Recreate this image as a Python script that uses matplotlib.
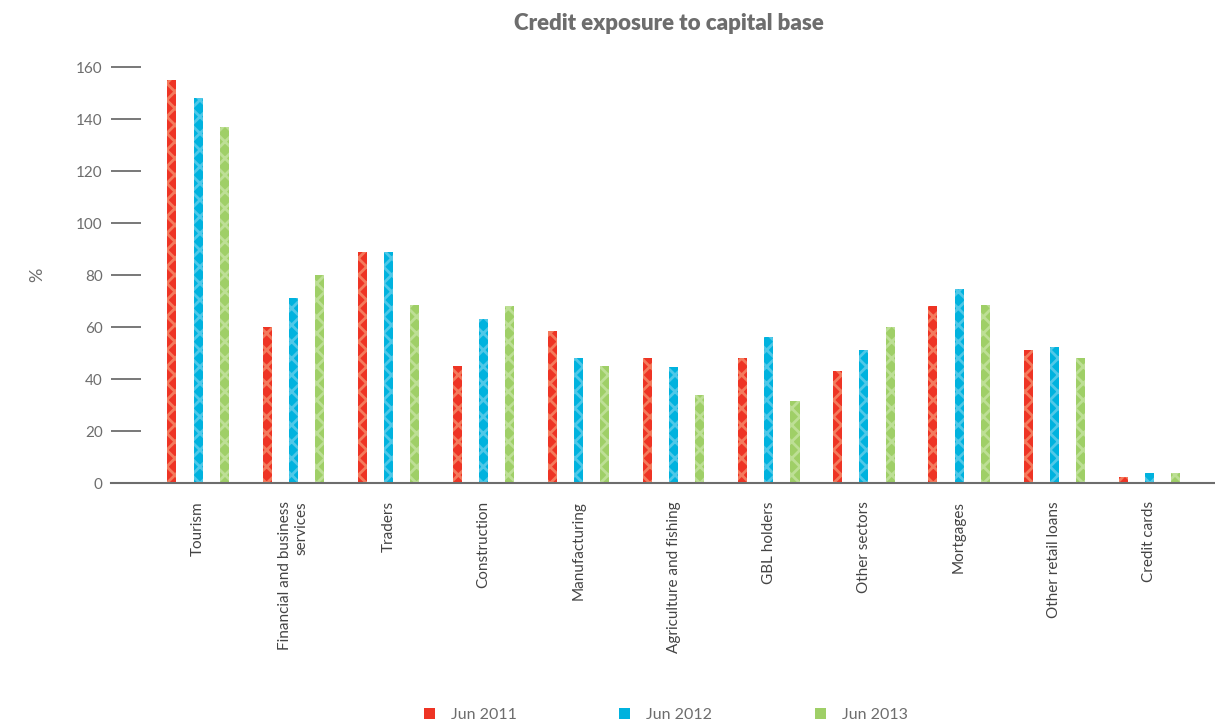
import numpy as np
import matplotlib
matplotlib.use('Agg')
import matplotlib.pyplot as plt
from matplotlib.patches import Patch

plt.rcParams['font.family'] = ['Lato', 'DejaVu Sans']
plt.rcParams['hatch.linewidth'] = 2.0

categories = ['Tourism', 'Financial and business\nservices', 'Traders', 'Construction',
              'Manufacturing', 'Agriculture and fishing', 'GBL holders', 'Other sectors',
              'Mortgages', 'Other retail loans', 'Credit cards']
jun_2011 = [155, 60, 89, 45, 58.5, 48, 48, 43, 68, 51, 2.5]
jun_2012 = [148, 71, 89, 63, 48, 44.5, 56, 51, 74.5, 52.5, 4]
jun_2013 = [137, 80, 68.5, 68, 45, 34, 31.5, 60, 68.5, 48, 4]
series = [('Jun 2011', jun_2011, '#ee3424', '#f47a5c'),
          ('Jun 2012', jun_2012, '#00b2de', '#4fc8e8'),
          ('Jun 2013', jun_2013, '#9fcf67', '#bddf95')]

grey = '#6d6d6d'
fig = plt.figure(figsize=(12.15, 7.22), dpi=100)
ax = fig.add_axes([0.0914, 0.331, 0.9086, 0.576])

x = np.arange(len(categories))
width = 0.095
offsets = [-0.275, 0, 0.275]
handles = []
for (name, vals, col, light), off in zip(series, offsets):
    ax.bar(x + off, vals, width, color=col, edgecolor=light, linewidth=0, hatch='xx')
    handles.append(Patch(facecolor=col, label=name))

ax.set_xlim(-0.915, 10.69)
ax.set_ylim(0, 160)
ax.set_yticks(range(0, 161, 20))
ax.set_xticks(x)
ax.set_xticklabels(categories, rotation=90, ha='center', va='top',
                   multialignment='right', fontsize=11, color='#444444')
ax.tick_params(axis='x', length=0, pad=13)
ax.tick_params(axis='y', direction='in', length=21.6, width=1.3, color=grey,
               labelsize=11, labelcolor=grey, pad=6)
for s in ['top', 'right', 'left']:
    ax.spines[s].set_visible(False)
ax.spines['bottom'].set_color(grey)
ax.spines['bottom'].set_linewidth(1.5)

ax.set_ylabel('%', fontsize=13, color=grey, labelpad=22)
fig.text(0.5506, 0.968, 'Credit exposure to capital base', ha='center', va='center',
         fontsize=16, fontweight='heavy', color=grey)

fig.legend(handles=handles, loc='center', bbox_to_anchor=(0.548, 0.010), ncol=3,
           frameon=False, fontsize=11.5, labelcolor=grey, handlelength=0.7,
           handleheight=0.7, columnspacing=6.4, handletextpad=1.0)

fig.savefig('out.png', dpi=100)
